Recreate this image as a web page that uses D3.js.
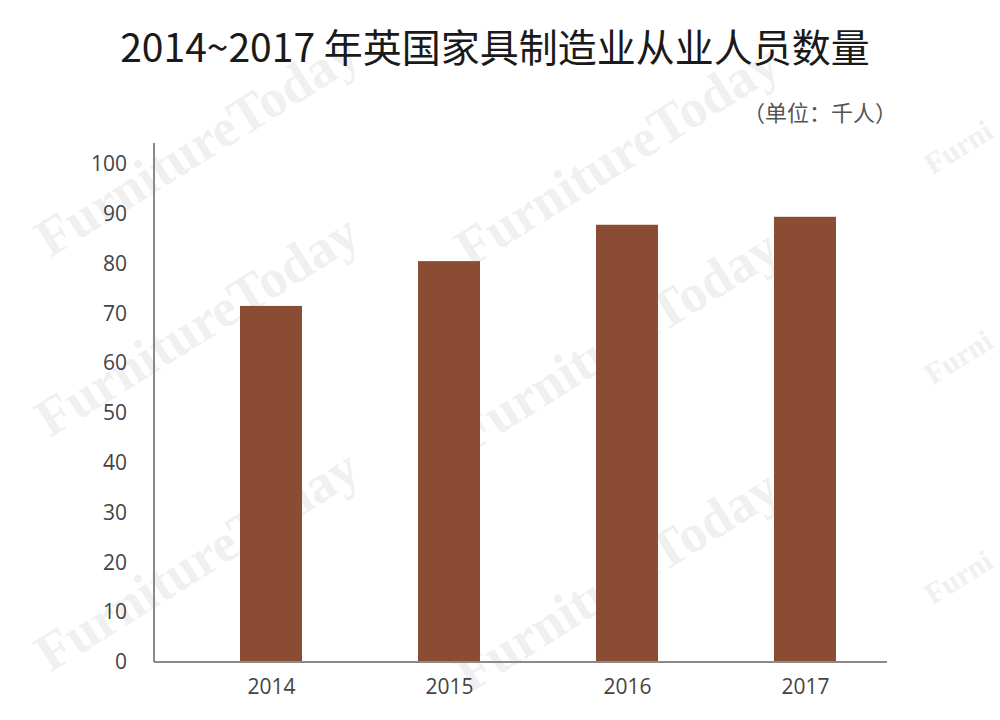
<!DOCTYPE html>
<html><head><meta charset="utf-8">
<script src="https://cdn.jsdelivr.net/npm/d3@7"></script>
<style>body{margin:0;background:#fff}svg{display:block}</style>
</head><body>
<svg id="c" width="1000" height="720"></svg>
<script>
const years = ["2014", "2015", "2016", "2017"];
const workers = [71.5, 80.5, 87.8, 89.4];
const yTicks = [0, 10, 20, 30, 40, 50, 60, 70, 80, 90, 100];
const titleText = "2014~2017 年英国家具制造业从业人员数量";
const unitText = "（单位：千人）";
const watermarkText = "FurnitureToday";

const svg = d3.select("#c");
const font = "'Open Sans', 'Noto Sans CJK SC', sans-serif";

// watermark
const wm = [[200,150],[620,160],[200,330],[620,345],[200,565],[620,585],[960,150],[960,360],[960,580]];
svg.append("g").selectAll("text").data(wm).join("text")
  .attr("transform", d => `translate(${d[0]},${d[1]}) rotate(-32)`)
  .attr("text-anchor", "middle").attr("dominant-baseline", "middle")
  .attr("font-family", "'Liberation Serif', serif").attr("font-weight", "bold")
  .attr("font-size", d => d[0] > 900 ? 30 : 54).attr("fill", "#f0f0f0")
  .text(d => d[0] > 900 ? "Furni" : watermarkText);

const y = d3.scaleLinear().domain([0, 100]).range([662, 164]);
const x = d3.scalePoint().domain(years).range([271, 805]);
const barW = 62;

// bars
svg.append("g").selectAll("rect").data(years).join("rect")
  .attr("x", d => x(d) - barW / 2)
  .attr("y", (d, i) => y(workers[i]))
  .attr("width", barW)
  .attr("height", (d, i) => y(0) - y(workers[i]))
  .attr("fill", "#8b4c34");

// y axis
const yAxis = svg.append("g").attr("transform", "translate(154,0)")
  .call(d3.axisLeft(y).tickValues(yTicks).tickSize(0).tickPadding(27));
yAxis.select(".domain").remove();
yAxis.selectAll("text").attr("font-family", font).attr("font-size", 21).attr("fill", "#444");
svg.append("line").attr("x1", 154).attr("x2", 154).attr("y1", 143).attr("y2", y(0))
  .attr("stroke", "#8a8a8a").attr("stroke-width", 2);

// x axis
const xAxis = svg.append("g").attr("transform", `translate(0,${y(0)})`)
  .call(d3.axisBottom(x).tickSize(0).tickPadding(17));
xAxis.select(".domain").remove();
xAxis.selectAll("text").attr("font-family", font).attr("font-size", 21).attr("fill", "#444");
svg.append("line").attr("x1", 154).attr("x2", 887).attr("y1", y(0)).attr("y2", y(0))
  .attr("stroke", "#8a8a8a").attr("stroke-width", 2);

// title
svg.append("text").attr("x", 495).attr("y", 62).attr("text-anchor", "middle")
  .attr("font-family", "'Noto Sans CJK SC', sans-serif").attr("font-size", 39)
  .attr("fill", "#1a1a1a").text(titleText);
svg.append("text").attr("x", 897).attr("y", 121).attr("text-anchor", "end")
  .attr("font-family", "'Noto Sans CJK SC', sans-serif").attr("font-size", 22)
  .attr("fill", "#555").text(unitText);
</script>
</body></html>
